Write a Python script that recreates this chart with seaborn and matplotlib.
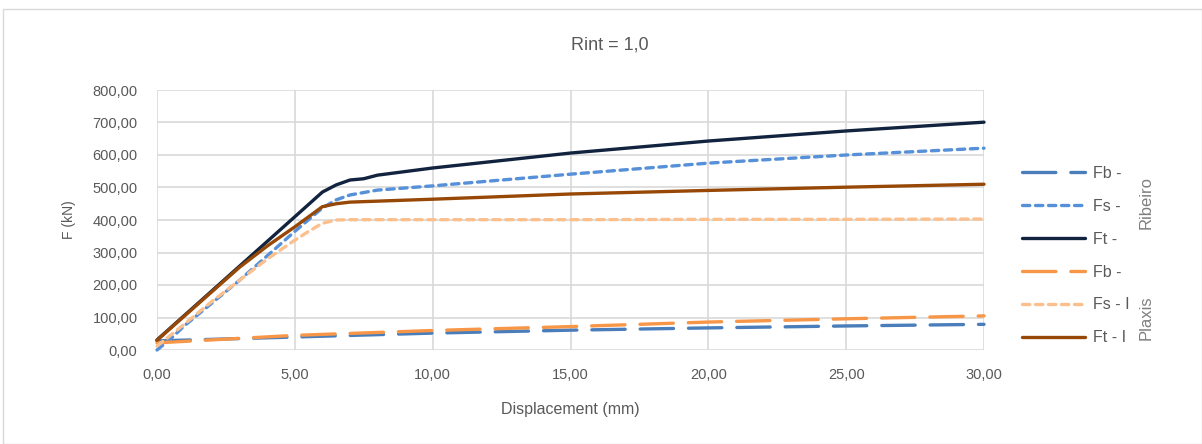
import matplotlib
matplotlib.use("Agg")
import matplotlib.pyplot as plt
import seaborn as sns
import pandas as pd
from matplotlib.lines import Line2D
from matplotlib.patches import Rectangle
from matplotlib.ticker import FuncFormatter

# Data (displacement mm, force kN)
x_fb_r = [0, 5, 10, 15, 20, 25, 30]
y_fb_r = [28, 40, 52, 61, 68, 74, 79]
x_fs_r = [0, 0.5, 1, 2, 3, 4, 5, 6, 6.5, 7, 8, 10, 15, 20, 25, 30]
y_fs_r = [0, 35, 75, 145, 215, 290, 365, 437, 462, 477, 492, 505, 541, 575, 600, 621]
x_ft_r = [0, 5, 6, 6.5, 7, 7.5, 8, 10, 15, 20, 25, 30]
y_ft_r = [31, 410, 486, 508, 523, 527, 538, 560, 606, 643, 674, 701]
x_fb_p = [0, 5, 10, 15, 20, 25, 30]
y_fb_p = [22, 45, 60, 72, 86, 96, 105]
x_fs_p = [0, 1, 2, 3, 4, 5, 5.5, 6, 6.5, 7, 10, 15, 20, 25, 30]
y_fs_p = [12, 80, 150, 215, 280, 338, 365, 390, 400, 401, 401, 401, 402, 402, 403]
x_ft_p = [0, 1, 2, 3, 4, 5, 6, 6.5, 7, 10, 15, 20, 25, 30]
y_ft_p = [30, 105, 180, 255, 320, 379, 441, 450, 455, 464, 480, 491, 501, 510]

legend_labels = ["Fb -", "Fs -", "Ft -", "Fb -", "Fs - I", "Ft - I"]
x_ticks = [0, 5, 10, 15, 20, 25, 30]
y_ticks = [0, 100, 200, 300, 400, 500, 600, 700, 800]

sns.set_theme(style="white")
plt.rcParams['font.family'] = ['Liberation Sans', 'DejaVu Sans']

fig = plt.figure(figsize=(12.02, 4.44), dpi=100)
ax = fig.add_axes([157/1202, 94/444, 827/1202, 260/444])

dash_long = (0, (10, 4.5))
dot_short = (0, (2.2, 1.7))
series = [
    (x_fb_r, y_fb_r, "#4a7ebb", dash_long),
    (x_fs_r, y_fs_r, "#5690d8", dot_short),
    (x_ft_r, y_ft_r, "#12233f", "-"),
    (x_fb_p, y_fb_p, "#f79646", dash_long),
    (x_fs_p, y_fs_p, "#fcc08e", dot_short),
    (x_ft_p, y_ft_p, "#974806", "-"),
]
handles = []
for xs, ys, c, ls in series:
    df = pd.DataFrame({"x": xs, "y": ys})
    sns.lineplot(data=df, x="x", y="y", ax=ax, color=c, linewidth=2.4,
                 linestyle=ls, solid_capstyle="round", dash_capstyle="round",
                 sort=False, clip_on=False)
    handles.append(Line2D([], [], color=c, linewidth=2.4, linestyle=ls,
                          dash_capstyle="round", solid_capstyle="round"))

ax.set_xlim(0, 30)
ax.set_ylim(0, 800)
ax.set_xticks(x_ticks)
ax.set_yticks(y_ticks)
fmt = FuncFormatter(lambda v, p: f"{v:.2f}".replace(".", ","))
ax.xaxis.set_major_formatter(fmt)
ax.yaxis.set_major_formatter(fmt)
ax.grid(True, color="#d9d9d9", linewidth=1.2)
ax.set_axisbelow(True)
for s in ax.spines.values():
    s.set_visible(False)
ax.tick_params(axis="y", colors="#595959", labelsize=10.5, length=0, pad=14)
ax.tick_params(axis="x", colors="#595959", labelsize=10.5, length=0, pad=13)
ax.set_xlabel("Displacement (mm)", color="#595959", fontsize=11.5, labelpad=14)
ax.set_ylabel("F (kN)", color="#595959", fontsize=10, labelpad=12)
fig.text(610/1202, 1 - 45/444, "Rint = 1,0", ha="center", va="center",
         color="#595959", fontsize=13)

leg = fig.legend(handles, legend_labels, loc="upper left",
                 bbox_to_anchor=(1008/1202, 1 - 151.5/444), frameon=False,
                 fontsize=11.5, labelcolor="#595959", handlelength=3.9,
                 labelspacing=1.12, handletextpad=0.5)

fig.text(1146/1202, 1 - 202/444, "Ribeiro", rotation=90, ha="center",
         va="center", color="#7f7f7f", fontsize=12)
fig.text(1146/1202, 1 - 318/444, "Plaxis", rotation=90, ha="center",
         va="center", color="#7f7f7f", fontsize=12)

fig.patches.append(Rectangle((3/1202, 0), 1 - 3/1202, 1 - 9/444,
                             transform=fig.transFigure, fill=False,
                             edgecolor="#d9d9d9", linewidth=1))

fig.savefig("out.png", dpi=100)
